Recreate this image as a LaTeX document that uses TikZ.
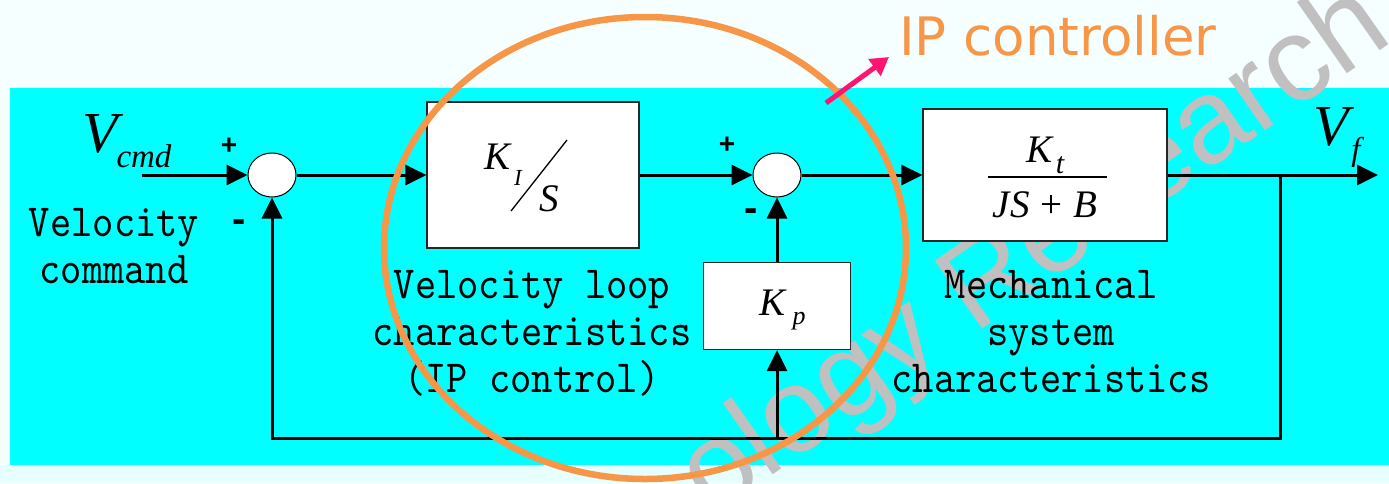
\documentclass[tikz,border=0pt]{standalone}
\usepackage{fontspec}
\usepackage{xcolor}
\usetikzlibrary{arrows.meta,shapes.geometric}
\setmainfont{Liberation Serif}
\newfontfamily\labelfont[Extension=.otf, FakeStretch=0.88]{lmmono10-regular}
\newfontfamily\titlefont{DejaVu Sans}
\newfontfamily\markfont{Liberation Sans}
\definecolor{bandCyan}{HTML}{00FFFF}
\definecolor{paleCyan}{HTML}{F6FFFF}
\definecolor{lowCyan}{HTML}{E6FFFF}
\definecolor{ipOrange}{HTML}{F79646}
\definecolor{ipPink}{HTML}{FF1470}
\definecolor{markGrey}{HTML}{C0C0C0}

\begin{document}
\begin{tikzpicture}[x=1pt, y=-1pt,
  blockbox/.style={draw=black!85, line width=1.2pt, fill=white, inner sep=0pt},
  sumnode/.style={ellipse, draw=black, line width=1pt, fill=white, minimum width=48pt, minimum height=44pt, inner sep=0pt},
  signal/.style={line width=3pt, -{Triangle[length=21pt,width=20pt]}},
  sign/.style={font=\markfont\bfseries\fontsize{28}{28}\selectfont, inner sep=0pt},
  minus/.style={font=\markfont\bfseries\fontsize{40}{40}\selectfont, inner sep=0pt},
  caption/.style={font=\labelfont\fontsize{46}{47}\selectfont, align=center, inner sep=0pt, anchor=base},
  big/.style={font=\itshape\fontsize{58}{58}\selectfont, inner sep=0pt, anchor=base},
  gain/.style={font=\itshape\fontsize{39}{39}\selectfont, inner sep=0pt, anchor=base},
  sub/.style={font=\itshape\fontsize{27}{27}\selectfont, inner sep=0pt, anchor=base}]
  \useasboundingbox (0,0) rectangle (1389,483);

  % Backdrop
  \fill[paleCyan] (0,0) rectangle (1389,483);
  \fill[lowCyan] (0,465) rectangle (1389,483);
  \fill[bandCyan] (10,88) rectangle (1389,465);

  % Watermark
  \begin{scope}
    \clip (0,0) rectangle (1389,483);
    \node[font=\markfont\fontsize{120}{120}\selectfont, text=markGrey, anchor=base west, inner sep=0pt, rotate=35] (mark) at (712,518) {ology Research};
  \end{scope}

  % Blocks
  \node[sumnode] (sum1) at (272,175) {};
  \node[sumnode] (sum2) at (777,175) {};
  \node[blockbox, minimum width=212pt, minimum height=146pt] (integ) at (533,175) {};
  \node[blockbox, minimum width=147pt, minimum height=87pt] (kp) at (777,306) {};
  \node[blockbox, minimum width=244pt, minimum height=132pt] (plant) at (1045,175) {};

  % Block contents
  \node[gain] (ki) at (497,169) {K};
  \node[sub, font=\itshape\fontsize{23}{23}\selectfont] (kisub) at (518,185) {I};
  \node[gain] (kis) at (549,211) {S};
  \draw[line width=1.3pt] (511,211) -- (567,140);
  \node[gain] (kpk) at (772,315) {K};
  \node[sub, font=\itshape\fontsize{26}{26}\selectfont] (kpsub) at (799,324) {p};
  \node[gain] (kt) at (1039,162) {K};
  \node[sub, font=\itshape\fontsize{30}{30}\selectfont] (ktsub) at (1060,173) {t};
  \draw[line width=1.3pt] (988,177) -- (1107,177);
  \node[gain] (den) at (1045,217) {JS\hspace{11pt}\upshape+\hspace{11pt}\itshape B};

  % Signals
  \node[big] (vcmd) at (100,152) {V};
  \node[sub, font=\itshape\fontsize{33}{33}\selectfont] (vcmdsub) at (144,167) {cmd};
  \node[big] (vf) at (1331,145) {V};
  \node[sub, font=\itshape\fontsize{33}{33}\selectfont] (vfsub) at (1356,160) {f};
  \coordinate (vin) at (142,175);
  \coordinate (vout) at (1378,175);
  \coordinate (tap) at (1280,175);
  \coordinate (fb) at (1280,438);

  % Signs
  \node[sign] (p1) at (229,146) {+};
  \node[minus] (m1) at (239,226) {-};
  \node[sign] (p2) at (727,145) {+};
  \node[minus] (m2) at (751,215) {-};

  % Connectors
  \draw[signal] (vin) -- (sum1);
  \draw[signal] (sum1) -- (integ);
  \draw[signal] (integ) -- (sum2);
  \draw[signal] (sum2) -- (plant);
  \draw[signal] (plant) -- (vout);
  \draw[signal] (tap) -- (fb) -| (sum1.south);
  \draw[signal] (fb -| kp.south) -- (kp.south);
  \draw[signal] (kp) -- (sum2);

  % Captions
  \node[caption] (cmdtext) at (114,283) {Velocity\\command};
  \node[caption] (looptext) at (532,392) {Velocity loop\\characteristics\\(IP control)};
  \node[caption] (mechtext) at (1051,392) {Mechanical\\system\\characteristics};

  % IP controller highlight
  \node[ellipse, draw=ipOrange, line width=6.5pt, minimum width=522pt, minimum height=462pt, inner sep=0pt] (ipring) at (645,248) {};
  \coordinate (ptail) at (826,103);
  \coordinate (phead) at (889,57);
  \draw[ipPink, line width=5pt, -{Triangle[length=18pt,width=20pt]}] (ptail) -- (phead);
  \node[font=\titlefont\fontsize{53}{53}\selectfont, text=ipOrange, anchor=base west, inner sep=0pt] (iptext) at (899,55) {IP controller};
\end{tikzpicture}
\end{document}
